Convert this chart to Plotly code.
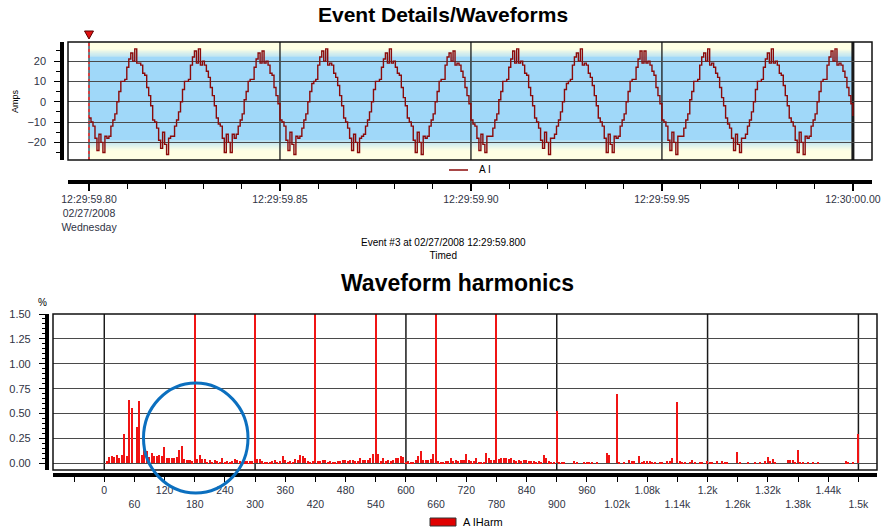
import plotly.graph_objects as go

W, H = 883, 530


def px(x):
    return x / W


def py(y):
    return 1 - y / H


# ---------------- data ----------------
wave_start = 59.80          # seconds after 12:29:00
samples_per_cycle = 32
line_freq = 60

amps = [
    -8, -10, -12, -18, -24, -16, -20, -25, -17, -18, -17, -12, -9, -6, 0, 5, 10, 10, 11, 17, 21, 24, 20, 26, 19, 19, 18, 14, 13, 7, 3, -2,
    -9, -10, -13, -19, -23, -15, -21, -26, -18, -17, -17, -12, -9, -5, 0, 6, 10, 10, 11, 18, 22, 25, 19, 26, 18, 20, 18, 15, 12, 7, 3, -2,
    -8, -11, -12, -18, -25, -16, -20, -25, -16, -18, -16, -12, -9, -6, 1, 5, 10, 11, 11, 17, 21, 24, 19, 25, 19, 20, 18, 14, 13, 7, 3, -1,
    -9, -10, -12, -19, -24, -15, -21, -26, -17, -18, -17, -13, -9, -6, 0, 5, 9, 10, 11, 18, 22, 25, 20, 26, 18, 19, 18, 14, 12, 8, 3, -2,
    -8, -10, -13, -18, -24, -16, -20, -25, -18, -17, -16, -12, -9, -5, 0, 6, 10, 10, 11, 17, 21, 24, 19, 26, 19, 20, 17, 14, 13, 7, 2, -2,
    -8, -10, -12, -19, -25, -15, -20, -26, -17, -18, -17, -12, -9, -6, 0, 5, 10, 11, 11, 18, 22, 24, 20, 25, 18, 19, 18, 15, 12, 7, 3, -1,
    -9, -11, -12, -18, -24, -16, -21, -25, -17, -17, -17, -13, -9, -6, 1, 5, 10, 10, 11, 17, 21, 25, 19, 26, 19, 20, 18, 14, 13, 7, 3, -2,
    -8, -10, -13, -19, -23, -15, -20, -26, -18, -18, -16, -12, -9, -5, 0, 6, 9, 10, 11, 18, 22, 24, 20, 26, 18, 19, 18, 14, 12, 8, 3, -2,
    -8, -10, -12, -18, -25, -16, -21, -25, -17, -18, -17, -12, -9, -6, 0, 5, 10, 11, 11, 17, 21, 25, 19, 25, 19, 20, 18, 15, 13, 7, 3, -1,
    -9, -10, -12, -19, -24, -15, -20, -26, -17, -17, -17, -13, -9, -6, 1, 5, 10, 10, 11, 18, 22, 24, 20, 26, 18, 19, 17, 14, 12, 7, 2, -2,
    -8, -11, -13, -18, -24, -16, -21, -25, -18, -18, -16, -12, -9, -5, 0, 6, 10, 10, 11, 17, 21, 24, 19, 26, 19, 20, 18, 14, 13, 8, 3, -2,
    -8, -10, -12, -19, -25, -15, -20, -26, -17, -18, -17, -12, -9, -6, 0, 5, 10, 11, 11, 18, 22, 25, 20, 26, 18, 19, 18, 15, 12, 7, 3, -1,
    -7,
]
wave_t = [wave_start + i / (line_freq * samples_per_cycle) for i in range(len(amps))]

time_ticks = [59.80, 59.85, 59.90, 59.95, 60.00]
time_labels = ["12:29:59.80<br>02/27/2008<br>Wednesday", "12:29:59.85",
               "12:29:59.90", "12:29:59.95", "12:30:00.00"]
time_minor = [59.81, 59.82, 59.83, 59.84, 59.86, 59.87, 59.88, 59.89,
              59.91, 59.92, 59.93, 59.94, 59.96, 59.97, 59.98, 59.99]
amp_ticks = [-20, -10, 0, 10, 20]
amp_minor = [-25, -15, -5, 5, 15, 25]

harm_freq = [
    5, 10, 15, 20, 25, 30, 35, 40, 45, 50, 55, 65, 70, 75, 80, 85, 90, 95, 100, 105, 110, 115, 120,
    125, 130, 135, 140, 145, 150, 155, 160, 165, 170, 175, 180, 185, 190, 195, 200, 205, 210, 215,
    220, 225, 230, 235, 240, 245, 250, 255, 260, 265, 270, 275, 280, 285, 290, 295, 300, 305, 310,
    315, 320, 325, 330, 335, 340, 345, 350, 355, 360, 365, 370, 375, 380, 385, 390, 395, 400, 405,
    410, 415, 420, 425, 430, 435, 440, 445, 450, 455, 460, 465, 470, 475, 480, 485, 490, 495, 500,
    505, 510, 515, 520, 525, 530, 535, 540, 545, 550, 555, 560, 565, 570, 575, 580, 585, 590, 595,
    600, 605, 610, 615, 620, 625, 630, 635, 640, 645, 650, 655, 660, 665, 670, 675, 680, 685, 690,
    695, 700, 705, 710, 715, 720, 725, 730, 735, 740, 745, 750, 755, 760, 765, 770, 775, 780, 785,
    790, 795, 800, 805, 810, 815, 820, 825, 830, 835, 840, 845, 850, 855, 860, 865, 870, 875, 880,
    885, 890, 895, 900, 905, 910, 915, 935, 940, 955, 960, 965, 970, 980, 1000, 1005, 1020, 1025,
    1035, 1045, 1050, 1055, 1065, 1070, 1075, 1080, 1085, 1090, 1095, 1105, 1110, 1120, 1125, 1130,
    1140, 1145, 1150, 1155, 1165, 1170, 1175, 1185, 1190, 1200, 1205, 1210, 1220, 1230, 1235, 1240,
    1260, 1265, 1280, 1295, 1305, 1315, 1320, 1325, 1330, 1335, 1360, 1365, 1370, 1375, 1380, 1385,
    1390, 1400, 1410, 1420, 1475, 1480, 1490, 1500,
]
harm_pct = [
    0.02, 0.06, 0.07, 0.06, 0.08, 0.05, 0.08, 0.29, 0.07, 0.64, 0.56, 0.36, 0.63, 0.08, 0.29, 0.12, 0.06, 0.10, 0.07, 0.07, 0.08, 0.07, 0.16,
    0.05, 0.05, 0.05, 0.05, 0.06, 0.13, 0.17, 0.04, 0.03, 0.03, 0.02, 6.2, 0.04, 0.08, 0.04, 0.04, 0.01, 0.03, 0.01,
    0.03, 0.02, 0.01, 0.05, 0.01, 0.02, 0.01, 0.02, 0.04, 0.03, 0.02, 0.01, 0.02, 0.02, 0.02, 0.02, 3.6, 0.04, 0.04,
    0.02, 0.01, 0.01, 0.01, 0.02, 0.03, 0.01, 0.02, 0.07, 0.03, 0.01, 0.02, 0.01, 0.04, 0.03, 0.08, 0.07, 0.05, 0.02,
    0.01, 0.02, 2.7, 0.02, 0.02, 0.03, 0.03, 0.01, 0.02, 0.01, 0.01, 0.02, 0.02, 0.03, 0.03, 0.02, 0.03, 0.03, 0.02,
    0.02, 0.05, 0.03, 0.03, 0.03, 0.05, 0.09, 2.2, 0.09, 0.02, 0.05, 0.02, 0.03, 0.02, 0.03, 0.05, 0.05, 0.07, 0.06,
    0.01, 0.02, 0.01, 0.01, 0.03, 0.07, 0.12, 0.03, 0.03, 0.03, 0.04, 0.09, 1.9, 0.02, 0.01, 0.01, 0.02, 0.02, 0.05,
    0.02, 0.03, 0.02, 0.03, 0.03, 0.09, 0.03, 0.02, 0.02, 0.05, 0.01, 0.01, 0.01, 0.10, 0.05, 0.03, 0.03, 1.7, 0.04,
    0.05, 0.05, 0.05, 0.04, 0.05, 0.03, 0.02, 0.03, 0.02, 0.03, 0.03, 0.02, 0.02, 0.02, 0.01, 0.02, 0.01, 0.08, 0.05,
    0.02, 0.01, 0.01, 0.53, 0.01, 0.01, 0.01, 0.02, 0.01, 0.01, 0.01, 0.01, 0.01, 0.01, 0.10, 0.08, 0.70, 0.01,
    0.01, 0.03, 0.02, 0.02, 0.07, 0.01, 0.02, 0.02, 0.02, 0.01, 0.01, 0.01, 0.01, 0.02, 0.02, 0.05,
    0.62, 0.02, 0.01, 0.01, 0.01, 0.03, 0.01, 0.01, 0.01, 0.02, 0.01, 0.01, 0.02, 0.02, 0.01, 0.01,
    0.11, 0.01, 0.01, 0.01, 0.01, 0.02, 0.06, 0.02, 0.04, 0.01, 0.03, 0.03, 0.03, 0.01, 0.13, 0.01,
    0.01, 0.01, 0.01, 0.01, 0.02, 0.01, 0.01, 0.29,
]

freq_ticks = list(range(-60, 1501, 60))
freq_labels = ["", "0", "<br>60", "120", "<br>180", "240", "<br>300", "360", "<br>420", "480",
               "<br>540", "600", "<br>660", "720", "<br>780", "840", "<br>900", "960", "<br>1.02k",
               "1.08k", "<br>1.14k", "1.2k", "<br>1.26k", "1.32k", "<br>1.38k", "1.44k", "<br>1.5k"]
freq_grid = [0, 300, 600, 900, 1200, 1500]
pct_ticks = [0, 0.25, 0.5, 0.75, 1.0, 1.25, 1.5]
pct_minor = [0.05, 0.1, 0.15, 0.2, 0.3, 0.35, 0.4, 0.45, 0.55, 0.6, 0.65, 0.7, 0.8, 0.85, 0.9,
             0.95, 1.05, 1.1, 1.15, 1.2, 1.3, 1.35, 1.4, 1.45]

# ---------------- styling ----------------
FONT = "Liberation Sans, Arial, sans-serif"
TICK_COLOR = "#2f3344"
YELLOW = (255, 255, 228)
BLUE = (160, 216, 249)
TOP_RANGE = [-28.7, 29.4]
TIME_RANGE = [59.7945, 60.005]
TOP_XDOM = [px(68), px(872)]
FREQ_RANGE = [-102, 1537]
PCT_RANGE = [-0.067, 1.5]


def mix(a, b, f):
    return "rgb(%d,%d,%d)" % tuple(round(a[i] + (b[i] - a[i]) * f) for i in range(3))


fig = go.Figure()

fig.add_trace(go.Scatter(
    x=wave_t, y=amps, mode="lines", line=dict(color="#8b0a0a", width=1.4, shape="hv"),
    name="A I", showlegend=False, xaxis="x", yaxis="y",
))

fig.add_trace(go.Bar(
    x=harm_freq, y=harm_pct, width=3, marker=dict(color="#f01414", line=dict(width=0)),
    name="A IHarm", showlegend=False, xaxis="x2", yaxis="y2",
))

shapes = []
# background bands for waveform plot
x0, x1 = time_ticks[0], time_ticks[-1]
shapes.append(dict(type="rect", xref="x", yref="y", x0=x0, x1=x1, y0=TOP_RANGE[0], y1=TOP_RANGE[1],
                   fillcolor=mix(YELLOW, YELLOW, 0), line=dict(width=0), layer="below"))
steps = 10
top_a, top_b = 22.0, 26.0
bot_a, bot_b = -19.0, -24.0
for i in range(steps):
    f = (i + 0.5) / steps
    ya = top_a + (top_b - top_a) * i / steps
    yb = top_a + (top_b - top_a) * (i + 1) / steps
    shapes.append(dict(type="rect", xref="x", yref="y", x0=x0, x1=x1, y0=ya, y1=yb,
                       fillcolor=mix(BLUE, YELLOW, f), line=dict(width=0), layer="below"))
    ya = bot_a + (bot_b - bot_a) * i / steps
    yb = bot_a + (bot_b - bot_a) * (i + 1) / steps
    shapes.append(dict(type="rect", xref="x", yref="y", x0=x0, x1=x1, y0=yb, y1=ya,
                       fillcolor=mix(BLUE, YELLOW, f), line=dict(width=0), layer="below"))
shapes.append(dict(type="rect", xref="x", yref="y", x0=x0, x1=x1, y0=bot_a, y1=top_a,
                   fillcolor=mix(BLUE, BLUE, 0), line=dict(width=0), layer="below"))

# vertical time grid lines
for t in time_ticks[1:]:
    shapes.append(dict(type="line", xref="x", yref="y", x0=t, x1=t, y0=TOP_RANGE[0], y1=TOP_RANGE[1],
                       line=dict(color="#1a1a1a", width=3 if t == time_ticks[-1] else 1.3),
                       layer="below"))
shapes.append(dict(type="line", xref="x", yref="y", x0=time_ticks[0], x1=time_ticks[0],
                   y0=TOP_RANGE[0], y1=TOP_RANGE[1], line=dict(color="#4a6470", width=1.6), layer="below"))
shapes.append(dict(type="line", xref="x", yref="y", x0=time_ticks[0], x1=time_ticks[0],
                   y0=TOP_RANGE[0], y1=TOP_RANGE[1], line=dict(color="#f03030", width=1.6, dash="3px,3px"),
                   layer="below"))
for g in freq_grid:
    shapes.append(dict(type="line", xref="x2", yref="y2", x0=g, x1=g, y0=PCT_RANGE[0], y1=PCT_RANGE[1],
                       line=dict(color="#1a1a1a", width=1.5), layer="below"))
# frames
shapes.append(dict(type="rect", xref="paper", yref="paper", x0=px(68), x1=px(872),
                   y0=py(160), y1=py(42), line=dict(color="#111111", width=1.5)))
shapes.append(dict(type="rect", xref="paper", yref="paper", x0=px(53), x1=px(877),
                   y0=py(470), y1=py(314), line=dict(color="#111111", width=1.5)))
# trigger marker (red triangle above the start of the record)
trig_x = TOP_XDOM[0] + (time_ticks[0] - TIME_RANGE[0]) / (TIME_RANGE[1] - TIME_RANGE[0]) * (TOP_XDOM[1] - TOP_XDOM[0])
tw = 4.5 / W
shapes.append(dict(type="path", xref="paper", yref="paper",
                   path="M %f,%f L %f,%f L %f,%f Z" % (trig_x - tw, py(31), trig_x + tw, py(31), trig_x, py(39)),
                   fillcolor="#e01010", line=dict(color="#5a0000", width=1)))
# highlight circle
shapes.append(dict(type="circle", xref="paper", yref="paper", x0=px(143.5), x1=px(248),
                   y0=py(493), y1=py(383), line=dict(color="#0b6fbf", width=3)))
# legends (manual)
shapes.append(dict(type="line", xref="paper", yref="paper", x0=px(449), x1=px(468),
                   y0=py(170), y1=py(170), line=dict(color="#8b0a0a", width=1.5)))
shapes.append(dict(type="rect", xref="paper", yref="paper", x0=px(430), x1=px(456),
                   y0=py(526), y1=py(518), fillcolor="#e00000", line=dict(color="#333333", width=1)))


def note(text, x, y, size, xanchor="center", angle=0):
    return dict(text=text, x=px(x), y=py(y), xref="paper", yref="paper", showarrow=False,
                xanchor=xanchor, yanchor="middle", textangle=angle,
                font=dict(family=FONT, size=size, color="#000000"))


annotations = [
    note("<b>Event Details/Waveforms</b>", 443, 15, 21),
    note("<b>Waveform harmonics</b>", 458, 283, 23),
    note("Event #3 at 02/27/2008 12:29:59.800<br>Timed", 443, 249, 10),
    note("Amps", 15, 101, 9, angle=-90),
    note("%", 42, 302, 10),
    note("A I", 477, 170, 10, xanchor="left"),
    note("A IHarm", 461, 522, 11, xanchor="left"),
]

tickfont = dict(family=FONT, size=11, color=TICK_COLOR)

fig.update_layout(
    width=W, height=H, margin=dict(l=0, r=0, t=0, b=0, pad=0, autoexpand=False),
    paper_bgcolor="white", plot_bgcolor="white", showlegend=False,
    shapes=shapes, annotations=annotations, bargap=0,
    xaxis=dict(domain=TOP_XDOM, range=TIME_RANGE, anchor="free", position=py(182),
               automargin=False,
               tickmode="array", tickvals=time_ticks, ticktext=time_labels,
               ticks="outside", ticklen=7, tickwidth=1.5, tickcolor="#000",
               showline=True, linecolor="#000", linewidth=3.5, showgrid=False, zeroline=False,
               tickfont=dict(family=FONT, size=10.5, color=TICK_COLOR),
               minor=dict(tickmode="array", tickvals=time_minor, ticks="outside", ticklen=5,
                          tickwidth=1.2, tickcolor="#000", showgrid=False)),
    yaxis=dict(domain=[py(160), py(42)], range=TOP_RANGE, anchor="free", position=px(62),
               automargin=False,
               tickmode="array", tickvals=amp_ticks, ticks="outside", ticklen=6, tickwidth=1.2,
               tickcolor="#000", showline=True, linecolor="#000", linewidth=3.5,
               showgrid=True, gridcolor="#4a4a4a", gridwidth=1.3, zeroline=False,
               tickfont=tickfont, ticklabelstandoff=6,
               minor=dict(tickmode="array", tickvals=amp_minor, ticks="outside", ticklen=4,
                          tickwidth=1, tickcolor="#000", showgrid=False)),
    xaxis2=dict(domain=[px(53), px(877)], range=FREQ_RANGE, anchor="free", position=py(475),
                automargin=False,
                tickmode="array", tickvals=freq_ticks, ticktext=freq_labels,
                ticks="outside", ticklen=5, tickwidth=1.2, tickcolor="#000",
                showline=True, linecolor="#000", linewidth=3.5, showgrid=False, zeroline=False,
                tickfont=dict(family=FONT, size=10.5, color=TICK_COLOR)),
    yaxis2=dict(domain=[py(470), py(314)], range=PCT_RANGE, anchor="free", position=px(46.7),
                automargin=False,
                tickmode="array", tickvals=pct_ticks, tickformat=".2f",
                ticks="outside", ticklen=6, tickwidth=1.2, tickcolor="#000",
                showline=True, linecolor="#000", linewidth=3.5,
                showgrid=True, gridcolor="#4a4a4a", gridwidth=1.3, zeroline=False,
                tickfont=tickfont, ticklabelstandoff=6,
                minor=dict(tickmode="array", tickvals=pct_minor, ticks="outside", ticklen=3,
                           tickwidth=1, tickcolor="#000", showgrid=False)),
)

fig.write_html(
    "out.html",
    config={"displayModeBar": False},
    post_script="document.body.style.margin='0px';document.body.style.overflow='hidden';",
)
